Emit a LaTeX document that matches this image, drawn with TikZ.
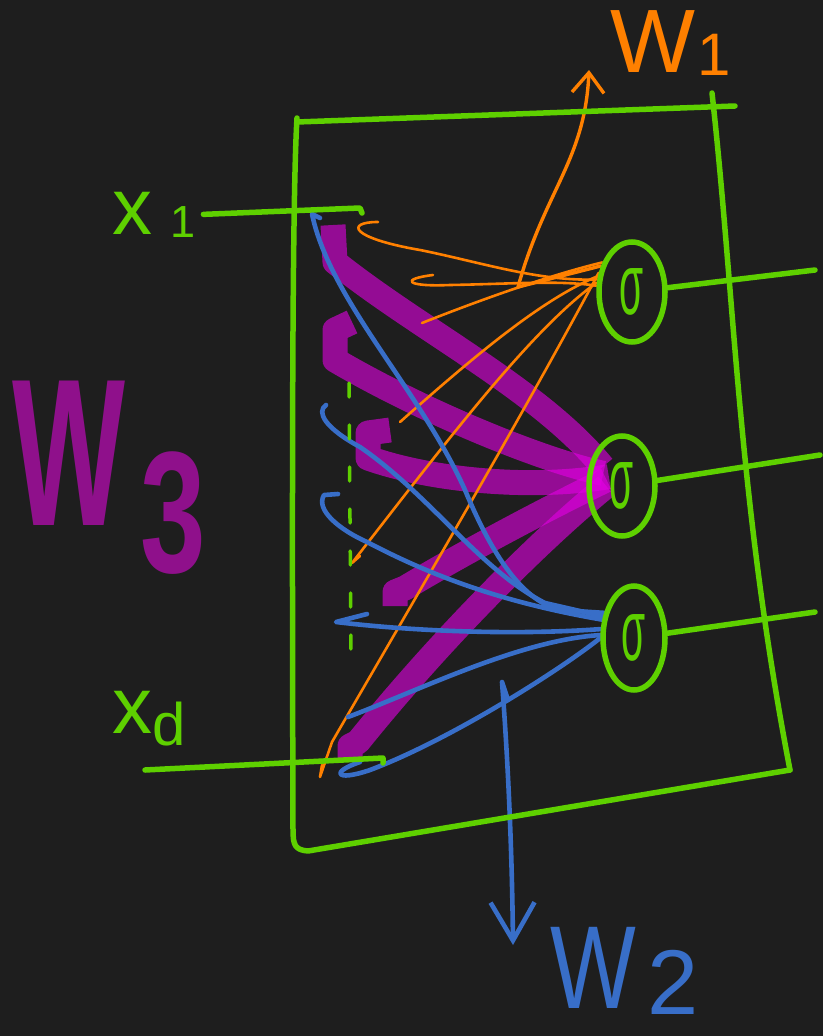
\documentclass[tikz,border=0pt]{standalone}
\usepackage{fontspec}
\setmainfont{Liberation Sans}
\usepackage{tikz}
\usetikzlibrary{shapes.geometric, arrows.meta, backgrounds}
\definecolor{boarddark}{RGB}{30, 30, 30}
\definecolor{inkgreen}{RGB}{94, 208, 0}
\definecolor{inkorange}{RGB}{255, 128, 0}
\definecolor{inkblue}{RGB}{56, 110, 200}
\definecolor{inkmagenta}{RGB}{228, 0, 228}
\definecolor{markerpurple}{RGB}{143, 16, 139}

\begin{document}
\begin{tikzpicture}[x=1pt, y=-1pt,
    pen/.style={draw=#1, line width=5.5pt, line cap=round, line join=round},
    wire/.style={draw=inkorange, line width=2.6pt, line cap=round, line join=round},
    marker/.style={draw=inkmagenta, draw opacity=0.6, line width=25pt, line join=round},
    neuron/.style={ellipse, draw=inkgreen, line width=5.5pt, minimum width=66pt,
                   minimum height=100pt, inner sep=0pt, text=inkgreen,
                   font=\fontsize{60}{60}\selectfont},
    hand/.style={text=#1, inner sep=0pt, anchor=base west}
]
    \useasboundingbox (0,0) rectangle (823,1036);

    % neurons
    \node[neuron] (sig1) at (632,292) {\scalebox{0.65}[1.45]{σ}};
    \node[neuron] (sig2) at (622,486) {\scalebox{0.65}[1.45]{σ}};
    \node[neuron, minimum width=62pt, minimum height=104pt] (sig3) at (634,638) {\scalebox{0.65}[1.45]{σ}};

    % labels
    \node[hand=inkgreen, font=\fontsize{80}{80}\selectfont] (xone) at (112,234)
        {x\hspace{18pt}\raisebox{-3pt}{\fontsize{45}{45}\selectfont 1}};
    \node[hand=inkgreen, font=\fontsize{80}{80}\selectfont] (xdim) at (112,733)
        {x\raisebox{-12pt}{\fontsize{60}{60}\selectfont d}};
    \node[hand=inkorange, font=\fontsize{90}{90}\selectfont] (wone) at (610,72)
        {W\hspace{2pt}\raisebox{-3pt}{\fontsize{60}{60}\selectfont 1}};
    \node[hand=inkblue, font=\fontsize{118}{118}\selectfont] (wtwo) at (550,1008)
        {\scalebox{0.77}[1]{W}\hspace{12pt}\raisebox{-6pt}{\fontsize{92}{92}\selectfont 2}};
    \node[hand=markerpurple, font=\bfseries\fontsize{210}{210}\selectfont] (wthree) at (12,525)
        {\scalebox{0.57}[1]{W}\hspace{15pt}\raisebox{-47pt}{\fontsize{173}{173}\selectfont\scalebox{0.68}[1]{3}}};

    \coordinate (inA) at (360,208);
    \coordinate (inDstart) at (145,770);
    \coordinate (inD) at (383,758);
    \coordinate (out1) at (815,270);
    \coordinate (out2) at (820,455);
    \coordinate (out3) at (815,612);
    \coordinate (cross) at (518,287);
    \coordinate (tipW1) at (589,70);
    \coordinate (tailW2) at (502,682);
    \coordinate (tipW2) at (513,945);

    \begin{scope}[on background layer]
        \fill[boarddark] (0,0) rectangle (823,1036);

        % W3 strokes
        \draw[marker] (333,225) -- (335,262) .. controls (420,330) and (540,390) .. ([xshift=14pt]sig2.150);
        \draw[marker] (352,322) -- (335,330) -- (335,360) .. controls (420,410) and (540,460) .. ([xshift=16pt]sig2.160);
        \draw[marker] (390,430) -- (368,433) -- (368,458) .. controls (430,480) and (530,490) .. ([xshift=22pt]sig2.165);
        \draw[marker] ([xshift=20pt]sig2.170) .. controls (540,512) and (460,555) .. (405,588) -- (395,592) -- (395,606);
        \draw[marker] ([xshift=20pt]sig2.180) .. controls (540,540) and (440,640) .. (358,742) -- (350,746) -- (350,758);

        % W1 strokes
        \draw[wire] (378,222) .. controls (345,222) and (350,238) .. (420,250) .. controls (480,262) and (540,282) .. (sig1.160);
        \draw[wire] (433,275) .. controls (400,279) and (405,287) .. (450,285) .. controls (510,284) and (560,280) .. (sig1.170);
        \draw[wire] (422,323) .. controls (480,300) and (550,275) .. (sig1.135);
        \draw[wire] (400,422) .. controls (470,360) and (540,300) .. (sig1.155);
        \draw[wire] (360,556) -- (352,563) .. controls (440,450) and (530,330) .. (sig1.165);
        \draw[wire] (322,765) -- (320,777) -- (332,742) .. controls (420,590) and (520,420) .. (sig1.150);
        \draw[wire, line width=3.4pt, -{Straight Barb[length=20pt, width=32pt]}]
            (sig1.140) -- (cross) .. controls (545,190) and (585,160) .. (tipW1);

        % W2 strokes
        \draw[pen=inkblue, line width=4.6pt] (320,218) -- (312,214) .. controls (330,300) and (420,390) .. (465,490)
            .. controls (490,550) and (520,600) .. (560,610) -- (sig3.140);
        \draw[pen=inkblue, line width=4.6pt] (326,405) .. controls (316,412) and (325,428) .. (360,447)
            .. controls (430,495) and (480,570) .. (545,603) -- (sig3.145);
        \draw[pen=inkblue, line width=4.6pt] (338,494) -- (324,495) .. controls (315,510) and (340,530) .. (367,542)
            .. controls (430,575) and (500,602) .. (sig3.150);
        \draw[pen=inkblue, line width=4.6pt] (367,614) -- (336,622) .. controls (420,632) and (520,635) .. (sig3.165);
        \draw[pen=inkblue, line width=4.6pt] (348,717) .. controls (420,690) and (520,640) .. (sig3.175);
        \draw[pen=inkblue, line width=4.6pt] (360,762) .. controls (330,772) and (335,782) .. (370,770)
            .. controls (450,740) and (560,670) .. (sig3.180);
        \draw[pen=inkblue, line width=4.6pt, -{Straight Barb[length=38pt, width=44pt]}]
            (508,700) -- (tailW2) .. controls (508,760) and (512,850) .. (tipW2);
    \end{scope}

    % frame
    \draw[pen=inkgreen] (297,122) -- (735,106);
    \draw[pen=inkgreen] (712,93) .. controls (735,300) and (738,500) .. (790,770);
    \draw[pen=inkgreen] (790,770) -- (308,851) .. controls (295,850) and (293,845) .. (293,830)
        .. controls (292,500) and (292,200) .. (297,118);

    % inputs and outputs
    \draw[pen=inkgreen] ([xshift=8pt]xone.east) -- (inA) -- ++(2,5);
    \draw[pen=inkgreen] (inDstart) -- (inD) -- ++(0,5);
    \draw[pen=inkgreen, line width=3.5pt, dash pattern=on 14pt off 28pt] (349,383) -- (351,655);
    \draw[pen=inkgreen] (sig1) -- (out1);
    \draw[pen=inkgreen] (sig2) -- (out2);
    \draw[pen=inkgreen] (sig3) -- (out3);
\end{tikzpicture}
\end{document}
